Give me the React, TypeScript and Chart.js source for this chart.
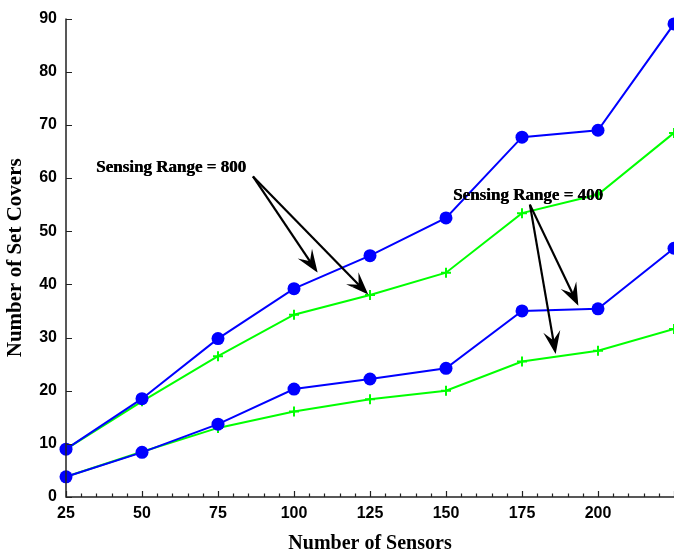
import React, { useEffect, useRef } from "react";
import { Chart, registerables } from "chart.js";

Chart.register(...registerables);

const sensors = [25, 50, 75, 100, 125, 150, 175, 200, 225];
const blue800 = [9, 18.5, 29.8, 39.2, 45.4, 52.5, 67.7, 69.0, 89.0];
const green800 = [9, 18.0, 26.5, 34.3, 38.0, 42.2, 53.4, 56.9, 68.5];
const blue400 = [3.8, 8.4, 13.7, 20.3, 22.2, 24.2, 35.0, 35.4, 46.8];
const green400 = [3.8, 8.5, 13.0, 16.1, 18.4, 20.0, 25.5, 27.5, 31.6];

const xTickValues = [25, 50, 75, 100, 125, 150, 175, 200];
const yTickValues = [0, 10, 20, 30, 40, 50, 60, 70, 80, 90];

// annotations in data coordinates
const noteLabels = ["Sensing Range = 800", "Sensing Range = 400"];
const noteTextX = [34.9, 152.3];
const noteTextY = [61.9, 56.7];
const noteArrowFromX = [86.5, 177.6];
const noteArrowFromY = [60.3, 55.0];
const noteArrowToX = [
  [107.2, 123.7],
  [193.1, 185.9],
];
const noteArrowToY = [
  [42.7, 38.5],
  [36.5, 27.5],
];

const BLUE = "#0000ff";
const GREEN = "#00ff00";

const axesPlugin = {
  id: "customAxes",
  afterDraw(chart: any) {
    const { ctx, chartArea, scales } = chart;
    const xs = scales.x;
    const ys = scales.y;
    ctx.save();
    ctx.strokeStyle = "#222";
    ctx.lineWidth = 1.5;
    ctx.beginPath();
    ctx.moveTo(chartArea.left, chartArea.top);
    ctx.lineTo(chartArea.left, chartArea.bottom);
    ctx.lineTo(chart.width + 2, chartArea.bottom);
    ctx.stroke();
    ctx.lineWidth = 1.2;
    ctx.beginPath();
    for (let v = 25; v <= 225; v += 5) {
      const px = Math.round(xs.getPixelForValue(v)) + 0.5;
      const len = v % 25 === 0 ? 6 : 3.5;
      ctx.moveTo(px, chartArea.bottom);
      ctx.lineTo(px, chartArea.bottom - len);
    }
    for (const v of yTickValues) {
      const py = Math.round(ys.getPixelForValue(v)) + 0.5;
      ctx.moveTo(chartArea.left, py);
      ctx.lineTo(chartArea.left + 6, py);
    }
    ctx.stroke();
    ctx.restore();
  },
};

function drawArrow(ctx: any, x1: number, y1: number, x2: number, y2: number) {
  const ang = Math.atan2(y2 - y1, x2 - x1);
  const len = 16;
  const spread = 0.36;
  ctx.beginPath();
  ctx.moveTo(x1, y1);
  ctx.lineTo(x2 - Math.cos(ang) * 6, y2 - Math.sin(ang) * 6);
  ctx.stroke();
  ctx.beginPath();
  ctx.moveTo(x2, y2);
  ctx.lineTo(x2 - len * Math.cos(ang - spread), y2 - len * Math.sin(ang - spread));
  ctx.lineTo(x2 - 9 * Math.cos(ang), y2 - 9 * Math.sin(ang));
  ctx.lineTo(x2 - len * Math.cos(ang + spread), y2 - len * Math.sin(ang + spread));
  ctx.closePath();
  ctx.fill();
  ctx.stroke();
}

const notesPlugin = {
  id: "notes",
  afterDatasetsDraw(chart: any) {
    const { ctx, scales } = chart;
    const xs = scales.x;
    const ys = scales.y;
    ctx.save();
    ctx.fillStyle = "#000";
    ctx.strokeStyle = "#000";
    ctx.lineWidth = 2.2;
    ctx.lineJoin = "miter";
    ctx.font = "bold 17px 'Liberation Serif', 'Times New Roman', serif";
    ctx.textAlign = "left";
    ctx.textBaseline = "middle";
    for (let i = 0; i < noteLabels.length; i++) {
      const tx = xs.getPixelForValue(noteTextX[i]);
      const ty = ys.getPixelForValue(noteTextY[i]);
      ctx.fillText(noteLabels[i], tx, ty);
      ctx.fillText(noteLabels[i], tx + 0.4, ty);
      const fx = xs.getPixelForValue(noteArrowFromX[i]);
      const fy = ys.getPixelForValue(noteArrowFromY[i]);
      for (let j = 0; j < noteArrowToX[i].length; j++) {
        drawArrow(
          ctx,
          fx,
          fy,
          xs.getPixelForValue(noteArrowToX[i][j]),
          ys.getPixelForValue(noteArrowToY[i][j])
        );
      }
    }
    ctx.restore();
  },
};

export default function App() {
  const ref = useRef<HTMLCanvasElement | null>(null);
  useEffect(() => {
    if (!ref.current) return;
    const mk = (data: number[]) => data.map((y, i) => ({ x: sensors[i], y }));
    const blueDs = (data: number[]) => ({
      data: mk(data),
      borderColor: BLUE,
      backgroundColor: BLUE,
      borderWidth: 2,
      pointStyle: "circle",
      pointRadius: 6.5,
      pointBackgroundColor: BLUE,
      pointBorderWidth: 0,
      tension: 0,
      clip: false,
    });
    const greenDs = (data: number[]) => ({
      data: mk(data),
      borderColor: GREEN,
      backgroundColor: GREEN,
      borderWidth: 2,
      pointStyle: "cross",
      pointRadius: 5,
      pointBorderColor: GREEN,
      pointBorderWidth: 2,
      tension: 0,
      clip: false,
    });
    const chart = new Chart(ref.current, {
      type: "line",
      data: {
        datasets: [blueDs(blue800), blueDs(blue400), greenDs(green800), greenDs(green400)] as any,
      },
      options: {
        animation: false,
        responsive: false,
        devicePixelRatio: 1,
        layout: { autoPadding: false, padding: { top: 16, right: 0, left: 0, bottom: 0 } },
        plugins: { legend: { display: false }, tooltip: { enabled: false } },
        scales: {
          x: {
            type: "linear",
            min: 25,
            max: 225,
            grid: { display: false, drawTicks: false },
            border: { display: false },
            afterBuildTicks: (s: any) => {
              s.ticks = xTickValues.map((v) => ({ value: v }));
            },
            afterFit: (s: any) => {
              s.height = 57;
            },
            ticks: {
              padding: 7,
              color: "#000",
              font: { family: "'Liberation Sans', Arial, sans-serif", size: 16, weight: "bold" },
              autoSkip: false,
              maxRotation: 0,
            },
            title: {
              display: true,
              text: "Number of Sensors",
              color: "#000",
              padding: { top: 0, bottom: 0 },
              font: { family: "'Liberation Serif', 'Times New Roman', serif", size: 20, weight: "bold", lineHeight: 1.0 },
            },
          },
          y: {
            type: "linear",
            min: 0,
            max: 90,
            grid: { display: false, drawTicks: false },
            border: { display: false },
            afterBuildTicks: (s: any) => {
              s.ticks = yTickValues.map((v) => ({ value: v }));
            },
            afterFit: (s: any) => {
              s.width = 66;
            },
            ticks: {
              padding: 9,
              color: "#000",
              font: { family: "'Liberation Sans', Arial, sans-serif", size: 16, weight: "bold" },
            },
            title: {
              display: true,
              text: "Number of Set Covers",
              color: "#000",
              padding: { top: 3, bottom: 0 },
              font: { family: "'Liberation Serif', 'Times New Roman', serif", size: 21, weight: "bold" },
            },
          },
        },
      } as any,
      plugins: [axesPlugin, notesPlugin],
    });
    return () => chart.destroy();
  }, []);
  return (
    <div style={{ position: "absolute", left: 0, top: 0, width: 674, height: 554, background: "#fff" }}>
      <canvas ref={ref} width={674} height={554} style={{ display: "block" }} />
    </div>
  );
}
